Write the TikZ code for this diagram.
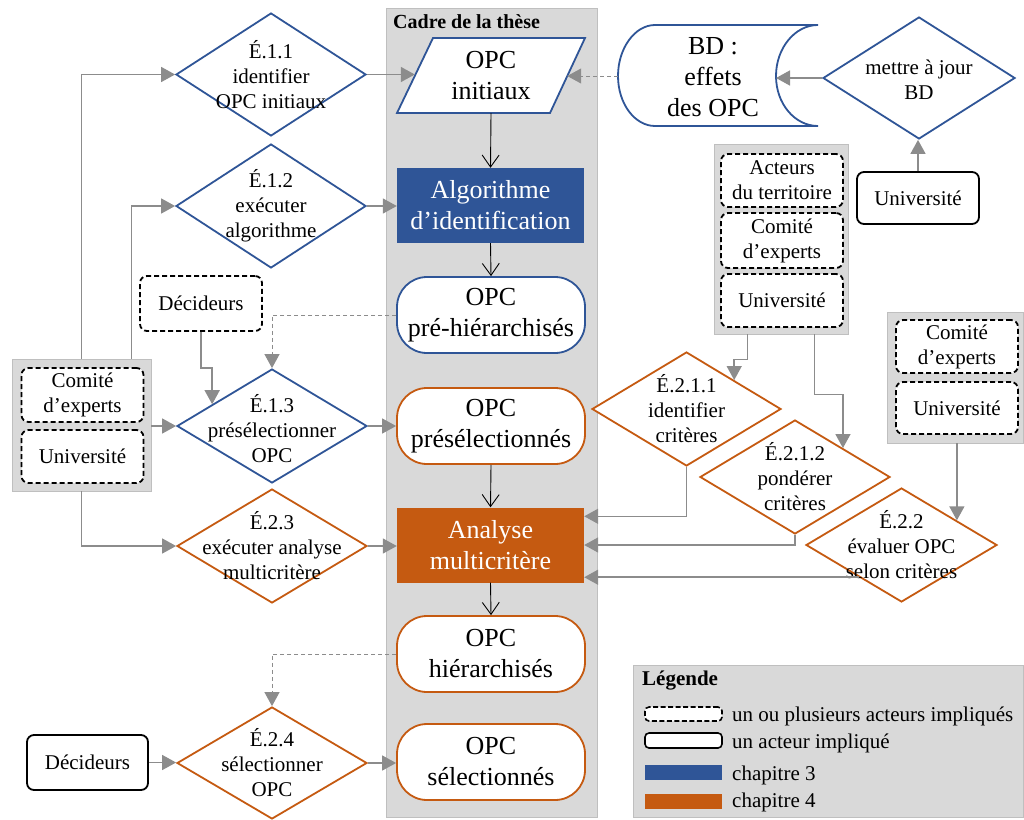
\documentclass[tikz,border=0pt]{standalone}
\usepackage{fontspec}
\setmainfont{Liberation Serif}
\usetikzlibrary{shapes.geometric, arrows.meta, calc}

\definecolor{cblue}{HTML}{2F5597}
\definecolor{corange}{HTML}{C55A11}
\definecolor{cgray}{HTML}{D9D9D9}
\definecolor{cgrayline}{HTML}{BFBFBF}
\definecolor{carrow}{HTML}{8C8C8C}

\begin{document}
\begin{tikzpicture}[x=1pt,y=-1pt,
  txs/.style={font=\fontsize{21}{25}\selectfont},
  txb/.style={font=\fontsize{26}{31}\selectfont},
  dia/.style={diamond, draw, line width=1.8pt, fill=white, inner sep=0pt},
  diatext/.style={txs, align=center, inner sep=0pt},
  grp/.style={fill=cgray, draw=cgrayline, line width=0.8pt, inner sep=0pt},
  actorm/.style={draw=black, dash pattern=on 5pt off 3pt, line width=1.8pt, rounded corners=7pt,
                 fill=white, txs, align=center, inner sep=0pt, minimum width=122},
  actor/.style={draw=black, line width=1.8pt, rounded corners=7pt, fill=white, txs,
                align=center, inner sep=0pt, minimum width=122},
  stadium/.style={draw, line width=1.8pt, rounded corners=30pt, fill=white, txb, align=center,
                  minimum width=188, minimum height=76, inner sep=0pt},
  block/.style={text=white, txb, align=center, minimum width=187, minimum height=75, inner sep=0pt},
  flow/.style={draw=black, line width=0.9pt, -{Straight Barb[length=12pt,width=17pt,line width=0.9pt]}},
  garrow/.style={draw=carrow, line width=1.5pt, -{Triangle[length=14pt,width=15pt]}},
  gdash/.style={draw=carrow, line width=1pt, dash pattern=on 4pt off 3pt, -{Triangle[length=14pt,width=15pt]}},
]
\useasboundingbox (0,0) rectangle (1024,819);

% central frame of the thesis
\node[grp, minimum width=211, minimum height=809, anchor=north west] (cadre) at (386,8) {};
\node[font=\fontsize{20}{24}\selectfont\bfseries, anchor=base west, inner sep=0pt] (cadreT) at (393,28) {Cadre de la thèse};

% OPC initiaux (parallelogram)
\draw[cblue, line width=1.8pt, fill=white] (397,113) -- (433,38) -- (585,38) -- (550,113) -- cycle;
\node[txb, align=center, minimum width=152, minimum height=75, inner sep=0pt] (OPCi) at (491,75.5) {OPC\\initiaux};

\node[block, fill=cblue] (Algo) at (490.5,205.5) {Algorithme\\d’identification};
\node[stadium, draw=cblue] (PreH) at (491,315) {OPC\\pré-hiérarchisés};
\node[stadium, draw=corange] (PreS) at (491,426) {OPC\\présélectionnés};
\node[block, fill=corange] (Ana) at (490.5,545) {Analyse\\multicritère};
\node[stadium, draw=corange] (Hier) at (491,654) {OPC\\hiérarchisés};
\node[stadium, draw=corange] (Sel) at (491,762) {OPC\\sélectionnés};

\draw[flow] (OPCi.south) -- (Algo.north);
\draw[flow] (Algo.south) -- (PreH.north);
\draw[flow] (PreS.south) -- (Ana.north);
\draw[flow] (Ana.south) -- (Hier.north);

% left steps
\node[dia, draw=cblue, minimum width=190, minimum height=123] (E11) at (271,74.5) {};
\node[diatext] (E11t) at (E11) {É.1.1\\identifier\\OPC initiaux};
\node[dia, draw=cblue, minimum width=190, minimum height=124] (E12) at (271,206) {};
\node[diatext] (E12t) at (E12) {É.1.2\\exécuter\\algorithme};
\node[dia, draw=cblue, minimum width=190, minimum height=114] (E13) at (272,426) {};
\node[diatext] (E13t) at (272,429) {É.1.3\\présélectionner\\OPC};
\node[dia, draw=corange, minimum width=190, minimum height=114] (E23) at (272,546) {};
\node[diatext] (E23t) at (E23) {É.2.3\\exécuter analyse\\multicritère};
\node[dia, draw=corange, minimum width=190, minimum height=112] (E24) at (272,763) {};
\node[diatext] (E24t) at (E24) {É.2.4\\sélectionner\\OPC};

% left actors
\node[grp, minimum width=139, minimum height=132] (LG) at (81.5,425) {};
\node[actorm, minimum height=54] (LGc) at (82.5,395) {Comité\\d’experts};
\node[actorm, minimum height=53] (LGu) at (82.5,456.5) {Université};
\node[actorm, minimum height=55] (Dec1) at (201,303.5) {Décideurs};
\node[actor, minimum width=121, minimum height=55] (Dec2) at (87.5,762.5) {Décideurs};

% database and its update
\node[minimum width=200, minimum height=101, inner sep=0pt] (BD) at (718,76) {};
\draw[cblue, line width=1.8pt, fill=white]
  (655,25) -- (818,25) .. controls (795,25) and (776,48) .. (776,76)
  .. controls (776,104) and (795,126) .. (818,126) -- (655,126)
  .. controls (635,126) and (618,104) .. (618,76)
  .. controls (618,48) and (635,25) .. (655,25) -- cycle;
\node[txb, align=center, inner sep=0pt] (BDt) at (713,77) {BD :\\effets\\des OPC};
\coordinate (BDin) at (776,78);
\node[dia, draw=cblue, minimum width=192, minimum height=122] (MAJ) at (919,78) {};
\node[diatext] (MAJt) at (919,80) {mettre à jour\\BD};
\node[actor, minimum height=52] (UnivR) at (918,198) {Université};

% right actors
\node[grp, minimum width=134, minimum height=190] (RG1) at (781,239) {};
\node[actorm, minimum height=53] (RG1a) at (782,180.5) {Acteurs\\du territoire};
\node[actorm, minimum height=55] (RG1c) at (782,240.5) {Comité\\d’experts};
\node[actorm, minimum height=53] (RG1u) at (782,300.5) {Université};
\node[grp, minimum width=136, minimum height=131] (RG2) at (955,377.5) {};
\node[actorm, minimum height=53] (RG2c) at (957,346.5) {Comité\\d’experts};
\node[actorm, minimum height=52] (RG2u) at (957,408) {Université};

% right steps
\node[dia, draw=corange, minimum width=189, minimum height=114] (E211) at (686.5,409) {};
\node[diatext] (E211t) at (E211) {É.2.1.1\\identifier\\critères};
\node[dia, draw=corange, minimum width=190, minimum height=114] (E212) at (795,477) {};
\node[diatext] (E212t) at (E212) {É.2.1.2\\pondérer\\critères};
\node[dia, draw=corange, minimum width=191, minimum height=114] (E22) at (901.5,545) {};
\node[diatext] (E22t) at (E22) {É.2.2\\évaluer OPC\\selon critères};

% connectors
\draw[garrow] (E11.east) -- (E11.east -| OPCi.west);
\draw[garrow] (E12.east) -- (E12.east -| Algo.west);
\draw[garrow] (E13.east) -- (E13.east -| PreS.west);
\draw[garrow] (E23.east) -- (E23.east -| Ana.west);
\draw[garrow] (E24.east) -- (E24.east -| Sel.west);

\draw[gdash] (BD.west) -- (BD.west -| OPCi.east);
\draw[garrow] (MAJ.west) -- (MAJ.west -| BDin);
\draw[garrow] (UnivR.north) -- (UnivR.north |- MAJ.south);

\draw[garrow] ($(LG.north west)+(70,0)$) |- (E11.west);
\draw[garrow] ($(LG.north west)+(120,0)$) |- (E12.west);
\draw[garrow] (LG.east |- E13.west) -- (E13.west);
\draw[garrow] ($(LG.south west)+(70,0)$) |- (E23.west);
\draw[garrow] (Dec1.south) -- ++(0,36) -| (E13.160);
\draw[gdash] (PreH.west) -| (E13.north);
\draw[gdash] (Hier.west) -| (E24.north);
\draw[garrow] (Dec2.east) -- (Dec2.east -| E24.west);

\draw[garrow] ($(RG1.south west)+(34,0)$) -- ++(0,25) -| (E211.north east);
\draw[garrow] ($(RG1.south west)+(101,0)$) -- ++(0,60) -| (E212.north east);
\draw[garrow] (E22.24 |- RG2.south) -- (E22.24);
\draw[garrow] (E211.south) |- ($(Ana.north east)+(0,9)$);
\draw[garrow] (E212.south) |- (Ana.east);
\draw[garrow] (E22.217) -- (E22.217 -| Ana.east);

% legend
\node[grp, minimum width=390, minimum height=152, anchor=north west] (Leg) at (633,665) {};
\node[font=\fontsize{21}{25}\selectfont\bfseries, anchor=base west, inner sep=0pt] (LegT) at (642,685) {Légende};
\node[draw=black, dash pattern=on 5pt off 2.5pt, line width=1.6pt, rounded corners=4pt, fill=white,
      minimum width=77, minimum height=14, inner sep=0pt] (Lk1) at (683.5,714) {};
\node[draw=black, line width=1.6pt, rounded corners=4pt, fill=white,
      minimum width=77, minimum height=15, inner sep=0pt] (Lk2) at (683.5,740.5) {};
\node[fill=cblue, minimum width=77, minimum height=15, inner sep=0pt] (Lk3) at (683.5,772.5) {};
\node[fill=corange, minimum width=77, minimum height=15, inner sep=0pt] (Lk4) at (683.5,801.5) {};
\node[txs, anchor=base west, inner sep=0pt] (Lt1) at (732,721) {un ou plusieurs acteurs impliqués};
\node[txs, anchor=base west, inner sep=0pt] (Lt2) at (732,748) {un acteur impliqué};
\node[txs, anchor=base west, inner sep=0pt] (Lt3) at (732,780) {chapitre 3};
\node[txs, anchor=base west, inner sep=0pt] (Lt4) at (732,807) {chapitre 4};
\end{tikzpicture}
\end{document}
